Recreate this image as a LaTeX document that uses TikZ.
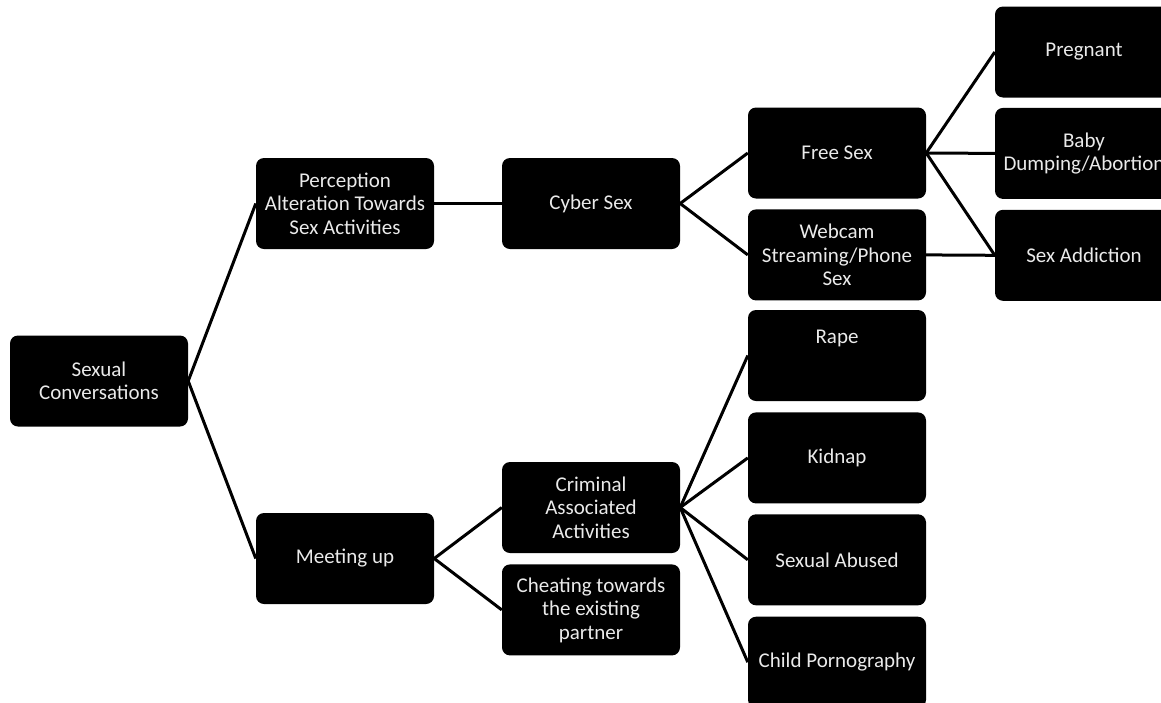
\documentclass[tikz,border=0pt]{standalone}
\usepackage{fontspec}
\setmainfont{Carlito}
\usetikzlibrary{positioning}
\definecolor{boxtext}{HTML}{EAEAEA}
\tikzset{
every node/.style = {font = \fontsize{21}{23.5}\selectfont},
topic/.style = {rectangle, fill = black, text = boxtext, rounded corners = 8pt,
   minimum width = 178pt, minimum height = 91pt, inner sep = 2pt, align = center},
link/.style = {draw = black, line width = 3pt}
}
\begin{document}
\begin{tikzpicture}[x = 1pt, y = -1pt]

\useasboundingbox (0,0) rectangle (1161,702);
\clip (0,0) rectangle (1161,702);

%% Root and first level
\node [topic] (conv) at (99,381) {Sexual\\Conversations};
\node [topic] (perc) at (345,203.5) {Perception\\Alteration Towards\\Sex Activities};
\node [topic] (meet) at (345,558.5) {Meeting up};

%% Second level
\node [topic] (cyber) at (591,203.5) {Cyber Sex};
\node [topic] (crim) at (591,507.5) {Criminal\\Associated\\Activities};
\node [topic] (cheat) [below = 11pt of crim] {Cheating towards\\the existing\\partner};

%% Third level
\node [topic] (free) at (837,153) {Free Sex};
\node [topic] (webcam) [below = 10.5pt of free] {Webcam\\Streaming/Phone\\Sex};
\node [topic] (rape) at (837,355.5) {\raisebox{12pt}[0pt][0pt]{Rape}};
\node [topic] (kidnap) [below = 11pt of rape] {Kidnap};
\node [topic] (abuse) [below = 10.5pt of kidnap] {Sexual Abused};
\node [topic] (porn) [below = 11pt of abuse] {Child Pornography};

%% Outcomes (cut at the right edge)
\node [topic] (preg) at (1084,52) {Pregnant};
\node [topic] (baby) [below = 10pt of preg] {Baby\\Dumping/Abortion};
\node [topic] (addict) [below = 10.5pt of baby] {Sex Addiction};

%% Connectors
\foreach \a/\b in {conv/perc, conv/meet, perc/cyber, cyber/free, cyber/webcam,
   free/preg, free/baby, free/addict, webcam/addict, meet/crim, meet/cheat,
   crim/rape, crim/kidnap, crim/abuse, crim/porn}
   \path [link] (\a.east) edge (\b.west);

\end{tikzpicture}
\end{document}
